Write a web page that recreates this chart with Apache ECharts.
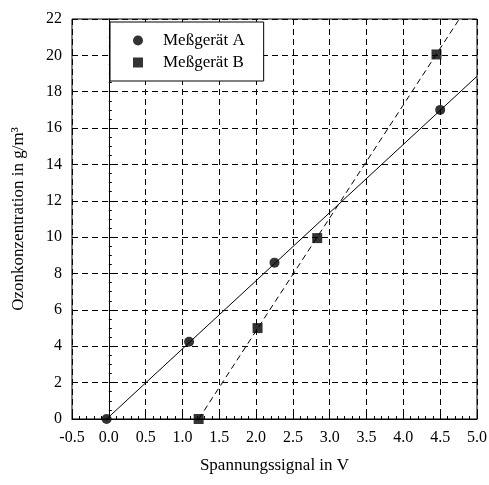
<!DOCTYPE html>
<html>
<head>
<meta charset="utf-8">
<script src="https://cdn.jsdelivr.net/npm/echarts@6/dist/echarts.min.js"></script>
<style>
  html, body { margin: 0; padding: 0; background: #fff; }
  #chart { width: 489px; height: 485px; }
</style>
</head>
<body>
<div id="chart"></div>
<script>
// Messpunkte
let pointsA = [[-0.03, 0], [1.09, 4.25], [2.25, 8.6], [4.5, 17.0]];
let pointsB = [[1.22, 0], [2.02, 5.0], [2.83, 9.95], [4.45, 20.05]];
let fitA = [[-0.03, 0], [5.0, 18.85]];
let fitB = [[1.22, 0], [4.76, 22]];

let font = "'Liberation Serif', 'Times New Roman', serif";

let option = {
    animation: false,
    backgroundColor: '#fff',
    textStyle: { fontFamily: font, color: '#000' },
    grid: {
        left: 72,
        right: 12,
        top: 19,
        bottom: 66,
        outerBoundsMode: 'none',
        show: true,
        borderColor: '#000',
        borderWidth: 1
    },
    legend: {
        left: 110,
        top: 22,
        orient: 'vertical',
        data: ['Meßgerät A', 'Meßgerät B'],
        backgroundColor: '#fff',
        borderColor: '#000',
        borderWidth: 1,
        padding: [10, 19, 10, 23],
        itemGap: 5,
        itemWidth: 10,
        itemHeight: 10,
        textStyle: { fontFamily: font, fontSize: 17, color: '#000', padding: [0, 0, 0, 15] }
    },
    xAxis: {
        type: 'value',
        min: -0.5,
        max: 5.0,
        interval: 0.5,
        name: 'Spannungssignal in V',
        nameLocation: 'middle',
        nameGap: 38,
        nameTextStyle: { fontFamily: font, fontSize: 17, color: '#000' },
        axisLine: { lineStyle: { color: '#000' } },
        axisTick: { inside: true, length: 5, lineStyle: { color: '#000' } },
        minorTick: { show: true, splitNumber: 5, length: 3, lineStyle: { color: '#000' } },
        axisLabel: {
            fontFamily: font, fontSize: 16, color: '#000', margin: 11,
            formatter: v => v.toFixed(1)
        },
        splitLine: { show: true, lineStyle: { color: '#000', type: [6, 4], width: 1 } }
    },
    yAxis: {
        type: 'value',
        min: 0,
        max: 22,
        interval: 2,
        name: 'Ozonkonzentration in g/m³',
        nameLocation: 'middle',
        nameGap: 45,
        nameTextStyle: { fontFamily: font, fontSize: 17, color: '#000' },
        axisLine: { show: true, lineStyle: { color: '#000' } },
        axisTick: { show: true, inside: true, length: 5, lineStyle: { color: '#000' } },
        minorTick: { show: true, splitNumber: 4, length: 3, lineStyle: { color: '#000' } },
        axisLabel: { fontFamily: font, fontSize: 16, color: '#000', margin: 10 },
        splitLine: { show: true, lineStyle: { color: '#000', type: [6, 4], width: 1 } }
    },
    series: [
        {
            name: 'fitA',
            type: 'line',
            data: fitA,
            symbol: 'none',
            lineStyle: { color: '#000', width: 1 },
            silent: true
        },
        {
            name: 'fitB',
            type: 'line',
            data: fitB,
            symbol: 'none',
            lineStyle: { color: '#000', width: 1, type: [6, 4] },
            silent: true
        },
        {
            name: 'Meßgerät A',
            type: 'scatter',
            data: pointsA,
            symbol: 'circle',
            symbolSize: 10,
            itemStyle: { color: '#000' }
        },
        {
            name: 'Meßgerät B',
            type: 'scatter',
            data: pointsB,
            symbol: 'rect',
            symbolSize: 10,
            itemStyle: { color: '#000' }
        }
    ]
};

let chartDom = document.getElementById('chart');
let myChart = echarts.init(chartDom);
myChart.setOption(option);
</script>
</body>
</html>
